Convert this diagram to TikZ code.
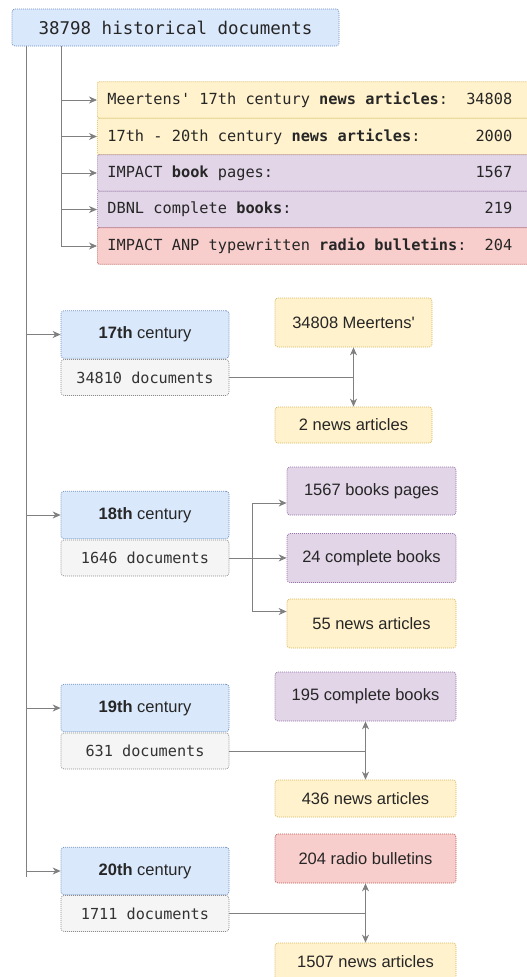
\documentclass[tikz,border=0pt]{standalone}
\usepackage{fontspec}
\setmainfont{Liberation Sans}
\setmonofont{DejaVu Sans Mono}
\usetikzlibrary{positioning,arrows.meta}

\definecolor{bluefill}{HTML}{DAE8FC}\definecolor{blueline}{HTML}{6C8EBF}
\definecolor{yelfill}{HTML}{FFF2CC}\definecolor{yelline}{HTML}{D6B656}
\definecolor{purfill}{HTML}{E1D5E7}\definecolor{purline}{HTML}{9673A6}
\definecolor{redfill}{HTML}{F8CECC}\definecolor{redline}{HTML}{B85450}
\definecolor{greyfill}{HTML}{F5F5F5}\definecolor{greyline}{HTML}{8C8C8C}
\definecolor{wire}{HTML}{808080}

% one line of the list: label left, count flush right
\newcommand{\rowtxt}[2]{\hbox to 425pt{#1\hfill #2\hskip 20pt}}

\tikzset{
	box/.style={draw, dash pattern=on 1pt off 1pt, line width=0.7pt, rounded corners=3pt,
		inner sep=0pt, text=black!85, font=\fontsize{16.5pt}{19pt}\selectfont},
	listrow/.style={box, rounded corners=2pt, anchor=west, inner xsep=10pt, minimum height=36.5pt,
		font=\ttfamily\fontsize{15.3pt}{18pt}\selectfont},
	yelrow/.style={listrow, fill=yelfill, draw=yelline},
	purrow/.style={listrow, fill=purfill, draw=purline},
	redrow/.style={listrow, fill=redfill, draw=redline},
	century/.style={box, fill=bluefill, draw=blueline, minimum width=168pt, minimum height=47.5pt},
	docs/.style={box, fill=greyfill, draw=greyline, minimum width=168pt, minimum height=36pt,
		text=black!80, font=\ttfamily\fontsize{15.2pt}{18pt}\selectfont},
	yelbox/.style={box, fill=yelfill, draw=yelline},
	purbox/.style={box, fill=purfill, draw=purline},
	redbox/.style={box, fill=redfill, draw=redline},
}

\begin{document}
\begin{tikzpicture}[x=1pt,y=-1pt,arrows={-Stealth[length=8pt,width=7pt,inset=2.5pt]},
		every path/.style={draw=wire,line width=0.9pt}]
	\useasboundingbox[draw=none] (0,0) rectangle (527,977);

	% total
	\node[box, fill=bluefill, draw=blueline, minimum width=327pt, minimum height=37pt,
		font=\ttfamily\fontsize{17.5pt}{20pt}\selectfont] (all) at (175.5,27.5) {38798 historical documents};
	\coordinate (spine) at (26,46);
	\coordinate (spineend) at (26,877);
	\coordinate (sub) at (61,46);

	% sources
	\node[yelrow] (r1) at (97,100) {\rowtxt{Meertens' 17th century \textbf{news articles}:}{34808}};
	\node[yelrow] (r2) at (97,136.5) {\rowtxt{17th - 20th century \textbf{news articles}:}{2000}};
	\node[purrow] (r3) at (97,173) {\rowtxt{IMPACT \textbf{book} pages:}{1567}};
	\node[purrow] (r4) at (97,209.5) {\rowtxt{DBNL complete \textbf{books}:}{219}};
	\node[redrow] (r5) at (97,246) {\rowtxt{IMPACT ANP typewritten \textbf{radio bulletins}:}{204}};
	\draw[-] (spine) -- (spineend);
	\foreach \r in {r1,r2,r3,r4,r5}
		\draw (sub) |- (\r.west);

	% centuries
	\node[century] (c17) at (145,334.5) {\textbf{17th} century};
	\node[docs, below=0.5pt of c17] (d17) {34810 documents};
	\node[century] (c18) at (145,515) {\textbf{18th} century};
	\node[docs, below=0.5pt of c18] (d18) {1646 documents};
	\node[century] (c19) at (145,708) {\textbf{19th} century};
	\node[docs, below=0.5pt of c19] (d19) {631 documents};
	\node[century] (c20) at (145,871) {\textbf{20th} century};
	\node[docs, below=0pt of c20] (d20) {1711 documents};
	\foreach \c in {c17,c18,c19,c20}
		\draw (spine |- \c.west) -- (\c.west);

	% 17th
	\node[yelbox, minimum width=157pt, minimum height=49pt] (m17) at (353.5,322.5) {34808 Meertens\textquotesingle};
	\node[yelbox, minimum width=157pt, minimum height=36pt] (n17) at (353.5,425) {2 news articles};
	\coordinate (j17) at (m17.south |- d17.east);
	\draw[-] (d17.east) -- (j17);
	\draw (j17) -- (m17);
	\draw (j17) -- (n17);

	% 18th
	\node[purbox, minimum width=169pt, minimum height=48pt] (b18) at (371.5,491) {1567 books pages};
	\node[purbox, minimum width=169pt, minimum height=49pt] (k18) at (371.5,558) {24 complete books};
	\node[yelbox, minimum width=169pt, minimum height=49pt] (n18) at (371.5,623.5) {55 news articles};
	\coordinate (j18) at (252,558);
	\draw (d18.east) -- (k18.west |- d18.east);
	\draw (j18) |- ([yshift=-12pt]b18.west);
	\draw (j18) |- ([yshift=12pt]n18.west);

	% 19th
	\node[purbox, minimum width=181pt, minimum height=49pt] (p19) at (365.5,696.5) {195 complete books};
	\node[yelbox, minimum width=181pt, minimum height=37pt] (n19) at (365.5,798.5) {436 news articles};
	\coordinate (j19) at (p19.south |- d19.east);
	\draw[-] (d19.east) -- (j19);
	\draw (j19) -- (p19);
	\draw (j19) -- (n19);

	% 20th
	\node[redbox, minimum width=181pt, minimum height=49pt] (b20) at (365.5,858.5) {204 radio bulletins};
	\node[yelbox, minimum width=181pt, minimum height=37pt] (n20) at (365.5,961.5) {1507 news articles};
	\coordinate (j20) at (b20.south |- d20.east);
	\draw[-] (d20.east) -- (j20);
	\draw (j20) -- (b20);
	\draw (j20) -- (n20);
\end{tikzpicture}
\end{document}
